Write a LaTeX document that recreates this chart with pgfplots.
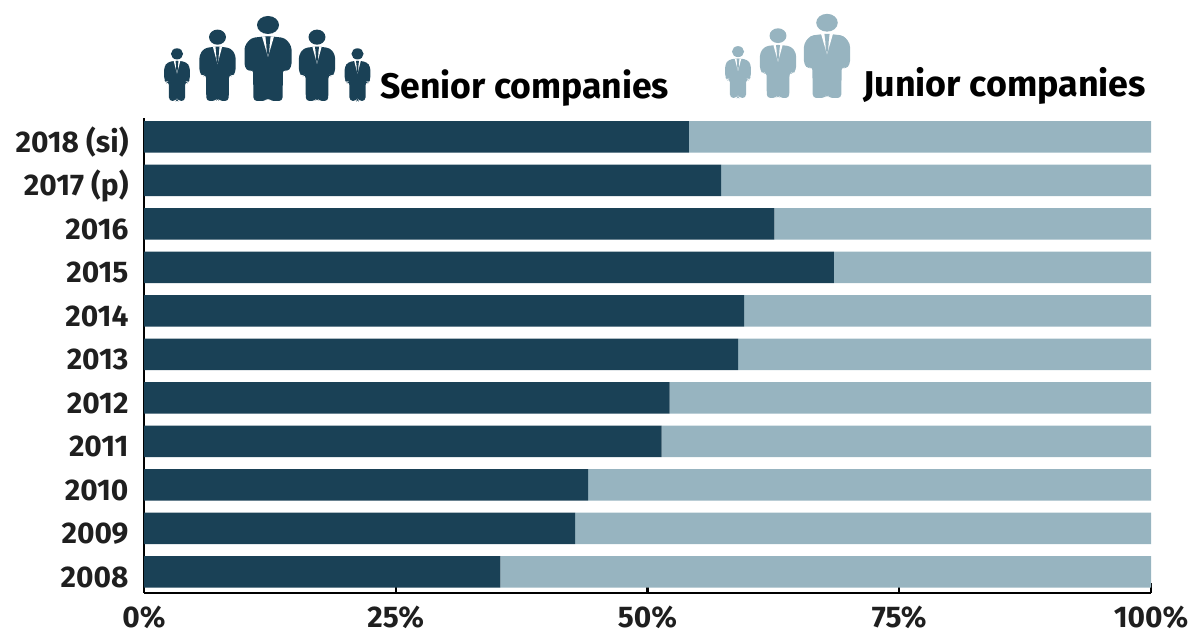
\documentclass[border=0pt]{standalone}
\usepackage{pgfplots}
\pgfplotsset{compat=1.18}
\usepackage{fontspec}
\setmainfont{Fira Sans}
\definecolor{senior}{HTML}{1A4156}
\definecolor{junior}{HTML}{97B4C0}
\pgfplotstableread{
y senior junior
0 35.4 64.6
1 42.8 57.2
2 44.1 55.9
3 51.4 48.6
4 52.2 47.8
5 59.0 41.0
6 59.6 40.4
7 68.5 31.5
8 62.6 37.4
9 57.3 42.7
10 54.1 45.9
}\sharetable
% Pictogram of a standing person in a suit: centre x, feet y, x scale, y scale, colour
\newcommand{\person}[5]{%
  \begin{scope}[shift={(#1bp,#2bp)},x=#3bp,y=#4bp]
    \fill[#5] (0,76) ellipse [x radius=11,y radius=9];
    \fill[#5,rounded corners=3.5bp] (0,65) -- (-17,63) -- (-23.5,55) -- (-23.5,34) -- (-19,29) -- (-15,32)
      -- (-14.5,0) -- (-2,0) -- (0,4) -- (2,0) -- (14.5,0) -- (15,32)
      -- (19,29) -- (23.5,34) -- (23.5,55) -- (17,63) -- cycle;
    \fill[white] (-6,64.5) -- (6,64.5) -- (0,44) -- cycle;
    \fill[#5] (-2.6,64.5) -- (2.6,64.5) -- (1.8,58) -- (1.3,50) -- (0,44) -- (-1.3,50) -- (-1.8,58) -- cycle;
  \end{scope}}
\begin{document}
\begin{tikzpicture}[x=1bp,y=1bp]
\path[use as bounding box] (0,0) rectangle (1192,633);
\begin{axis}[
  at={(144bp,40bp)},anchor=south west,
  scale only axis,width=1007bp,height=475bp,
  xbar stacked,bar width=31.5bp,
  xmin=0,xmax=100,ymin=-0.483,ymax=10.437,
  axis x line=bottom,axis y line=left,
  axis line style={-,black,line width=2.2bp},
  xtick={0,25,50,75,100},xticklabels={0\%,25\%,50\%,75\%,100\%},
  ytick={0,...,10},
  yticklabels={2008,2009,2010,2011,2012,2013,2014,2015,2016,2017 (p),2018 (si)},
  ytick style={draw=none},
  xtick style={black,line width=2.2bp},
  tick align=inside,
  major tick length=10bp,
  x tick label style={font=\fontsize{30}{30}\selectfont\bfseries,yshift=-9bp,color=black!88},
  y tick label style={font=\fontsize{30}{30}\selectfont\bfseries,yshift=-5bp,xshift=-12bp,color=black!88},
  clip=false,
]
\addplot[fill=senior,draw=none] table[x=senior,y=y] {\sharetable};
\addplot[fill=junior,draw=none] table[x=junior,y=y] {\sharetable};
\end{axis}
\person{177}{532}{0.55}{0.62}{senior}
\person{217.5}{532}{0.77}{0.84}{senior}
\person{268}{532}{1}{1}{senior}
\person{317}{532}{0.77}{0.84}{senior}
\person{357.5}{532}{0.55}{0.62}{senior}
\person{738}{535}{0.55}{0.61}{junior}
\person{778}{535}{0.77}{0.82}{junior}
\person{827}{535}{0.98}{0.99}{junior}
\node[anchor=base west,inner sep=0pt,font=\fontsize{35.7}{36}\selectfont\bfseries] at (380,534) {Senior companies};
\node[anchor=base west,inner sep=0pt,font=\fontsize{36}{36}\selectfont\bfseries] at (863,536) {Junior companies};
\end{tikzpicture}
\end{document}
